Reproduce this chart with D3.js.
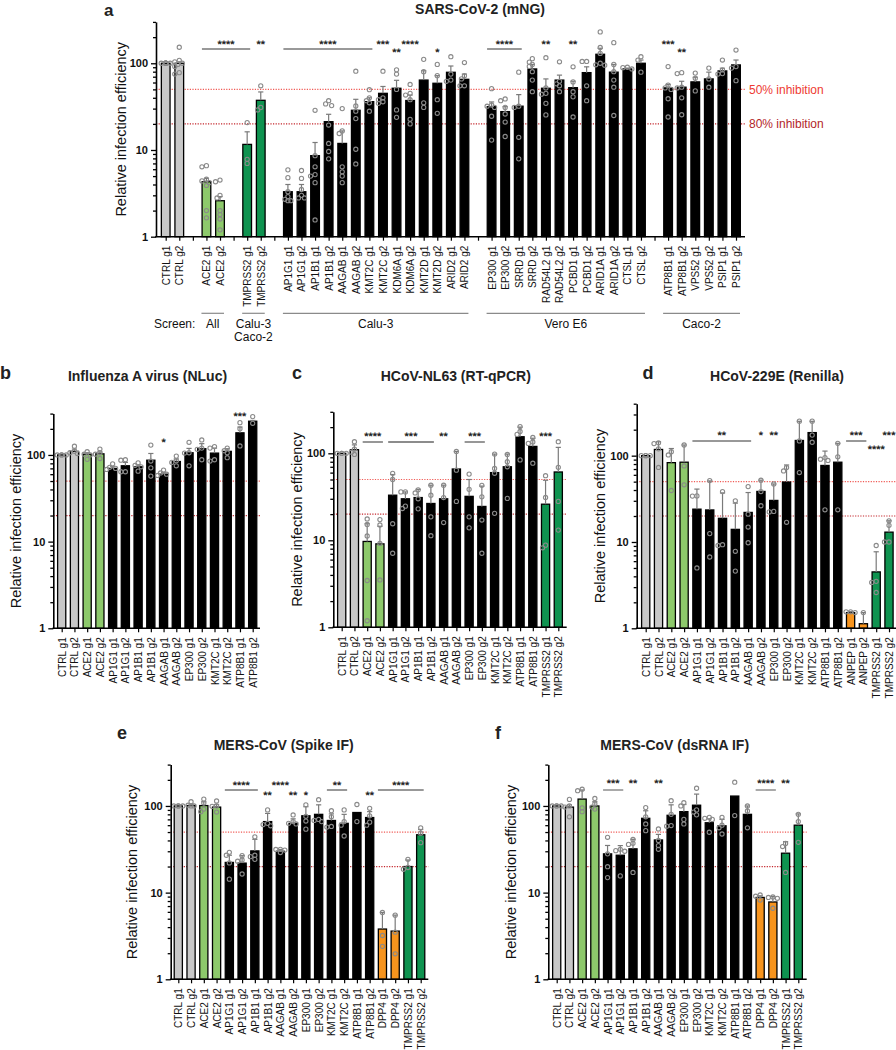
<!DOCTYPE html>
<html><head><meta charset="utf-8">
<script src="https://cdn.jsdelivr.net/npm/d3@7"></script>
<style>
body{margin:0;background:#fff;}
svg{display:block;font-family:"Liberation Sans",Arial,Helvetica,sans-serif;}
</style></head><body>
<svg id="fig" width="896" height="1050"></svg>
<script>
// ================= DATA =================
// Panel a: SARS-CoV-2 (mNG)  ("gap" entries are empty slots)
const aCategories = ["CTRL g1","CTRL g2","gap1","ACE2 g1","ACE2 g2","gap2","TMPRSS2 g1","TMPRSS2 g2","gap3",
 "AP1G1 g1","AP1G1 g2","AP1B1 g1","AP1B1 g2","AAGAB g1","AAGAB g2","KMT2C g1","KMT2C g2","KDM6A g1","KDM6A g2","KMT2D g1","KMT2D g2","ARID2 g1","ARID2 g2","gap4",
 "EP300 g1","EP300 g2","SRRD g1","SRRD g2","RAD54L2 g1","RAD54L2 g2","PCBD1 g1","PCBD1 g2","ARID1A g1","ARID1A g2","CTSL g1","CTSL g2","gap5",
 "ATP8B1 g1","ATP8B1 g2","VPS52 g1","VPS52 g2","PSIP1 g1","PSIP1 g2"];
const aValues = [100,100,null,4.3,2.6,null,11.6,37.4,null,
 3.3,3.3,8.6,21.2,11.9,28.7,36.1,45,51.5,37.2,64,58.8,78.7,65.3,null,
 31.6,27.7,32,86,51.5,64,52.3,78,127,79,86,100,null,
 52,53,61,66,81.6,95.7];
const aErrorTop = [100,104,null,4.7,2.9,null,16.2,46.7,null,
 4.0,4.0,12.2,25.8,16.6,38.4,40,54,63.6,43,82,72,93,75,null,
 35.8,31.6,43.5,97,66,73,62,91,149,97,88,109,null,
 57,62,69,79,87.6,109];
const aPoints = [[100,100,100,100,100,100,100,100],[153,108,104,100,97,92,78,75],[],
 [6.6,6.4,4.6,4.4,4.2,3.9,2.0,1.65],[4.5,4.3,3.0,2.8,2.0,1.8,1.6,1.2],[],
 [20.7,7.8,7.0],[55,31,29],[],
 [5.9,4.8,3.3,2.9,2.7,2.6,2.6],[5.8,4.7,3.5,3.0,2.8,2.8],[28.7,8.6,6.4,5.2,5.0,4.2,1.56],[37,34,32.5,19.4,11.9,9.6,7.9],
 [30,16.6,15.5,6.4,5.6,5.0,4.2],[81,32.2,28,23,10.2,6.9],[49.6,40,37,35,28],[81,40,38,36,34.5],
 [84,75,50,29,23.8],[57,45,43,38,22.6,20],[111,80,35,31],[97,72,38,26.5],[119,75,64,62],[102,72,66,55,55],[],
 [51,33,32,31,24.5,13],[38.8,37,31,26,21,14.3],[79,32,31,14,7.9],[113,103,97,92,80,64,47],
 [116,52,45,44,34.5,25.4],[104,62,58,55,47],[91,61,47,41,24],[105,105,55,37],
 [230,152,130,100,96,95],[173,97,80,64,53,25],[90,86,89],[119,109,79],[],
 [91.5,56,52,50,39,24],[78,76,53,52,40,25.5],[77,67,48],[88,66,53],[109,84,76,75],[142,91.5,88,63]];
const aStars = [
 {from:"ACE2 g1",to:"TMPRSS2 g1",label:"****",row:0},
 {from:"TMPRSS2 g2",label:"**",row:0},
 {from:"AP1G1 g1",to:"KMT2C g1",label:"****",row:0},
 {from:"KMT2C g2",label:"***",row:0},
 {from:"KDM6A g1",label:"**",row:1},
 {from:"KDM6A g2",label:"****",row:0},
 {from:"KMT2D g2",label:"*",row:1},
 {from:"EP300 g1",to:"SRRD g1",label:"****",row:0},
 {from:"RAD54L2 g1",label:"**",row:0},
 {from:"PCBD1 g1",label:"**",row:0},
 {from:"ATP8B1 g1",label:"***",row:0},
 {from:"ATP8B1 g2",label:"**",row:1}];
const aScreens = [
 {label:["All"],from:"ACE2 g1",to:"ACE2 g2"},
 {label:["Calu-3","Caco-2"],from:"TMPRSS2 g1",to:"TMPRSS2 g2"},
 {label:["Calu-3"],from:"AP1G1 g1",to:"ARID2 g2"},
 {label:["Vero E6"],from:"EP300 g1",to:"CTSL g2"},
 {label:["Caco-2"],from:"ATP8B1 g1",to:"PSIP1 g2"}];
const inhibitionLevels = [50,20];
const inhibitionLabels = ["50% inhibition","80% inhibition"];

// Panel b: Influenza A virus (NLuc)
const bCategories = ["CTRL g1","CTRL g2","ACE2 g1","ACE2 g2","AP1G1 g1","AP1G1 g2","AP1B1 g1","AP1B1 g2","AAGAB g1","AAGAB g2","EP300 g1","EP300 g2","KMT2C g1","KMT2C g2","ATP8B1 g1","ATP8B1 g2"];
const bValues = [100,110,102,103,70,75,73,87,60,84,106,118,105,110,180,245];
const bErrorTop = [100,117,106,108,74,82,77,104,63,90,119,135,120,118,210,250];
const bPoints = [[100,100,100,100],[126,110,106,104],[109,102,100,89],[117,106,102,91],[79,72,70,68],[88,87,64,64],[81,76,73,65],[130,85,71,57],[67,62,60,58],[97,86,82,75],[140,106,105,75],[149,120,116,88],[125,120,88,85],[120,112,106,93],[236,200,127],[277,232]];
const bStars = [{from:"AAGAB g1",label:"*",row:1},{from:"ATP8B1 g1",label:"***",row:0}];

// Panel c: HCoV-NL63 (RT-qPCR)
const cCategories = ["CTRL g1","CTRL g2","ACE2 g1","ACE2 g2","AP1G1 g1","AP1G1 g2","AP1B1 g1","AP1B1 g2","AAGAB g1","AAGAB g2","EP300 g1","EP300 g2","KMT2C g1","KMT2C g2","ATP8B1 g1","ATP8B1 g2","TMPRSS2 g1","TMPRSS2 g2"];
const cValues = [100,110,9.7,9.1,33,30,31,26.5,30,66,32,24.5,60,70,155,120,26,61];
const cErrorTop = [100,125,15.5,14.5,57,36,38.5,43,43,105,50,42,98,98,200,149,49,117];
const cPoints = [[100,100,100,100],[136,112,103,97],[17.6,15.2,11.2,3.45,1.19],[17.3,15,9.2,3.5],[58.8,50,15.5,7.1],[36,36,24.7,23.2],[38,35,30,23],[43,33,18.6,11.3],[43,31,16],[105,64,28],[57.7,38.5,18.6,13.9],[42.8,31.6,17.1,7.1],[98,67,59,20.4],[97,80,70,30.3],[203,178,165,84],[152,135,130,77],[55.3,31.1,8.8,8.2],[136,69,28,13.1]];
const cStars = [{from:"ACE2 g1",to:"ACE2 g2",label:"****",row:0},{from:"AP1G1 g1",to:"AP1B1 g2",label:"***",row:0},{from:"AAGAB g1",label:"**",row:0},{from:"EP300 g1",to:"EP300 g2",label:"***",row:0},{from:"TMPRSS2 g1",label:"***",row:0}];

// Panel d: HCoV-229E (Renilla)
const dCategories = ["CTRL g1","CTRL g2","ACE2 g1","ACE2 g2","AP1G1 g1","AP1G1 g2","AP1B1 g1","AP1B1 g2","AAGAB g1","AAGAB g2","EP300 g1","EP300 g2","KMT2C g1","KMT2C g2","ATP8B1 g1","ATP8B1 g2","ANPEP g1","ANPEP g2","TMPRSS2 g1","TMPRSS2 g2"];
const dValues = [100,118,83,84,24,23.5,18.8,14,22,38.5,30.3,49.5,150,185,77,84,1.52,1.13,4.5,13];
const dErrorTop = [100,145,121,133,41,51,37,28.2,37.4,52,47,78,250,250,113,139,1.56,1.52,7.7,17.6];
const dPoints = [[100,100,100,100],[141,138,120,73],[111,102,39.5],[133,76,46],[34.2,34,5],[51.5,12.5,6.7],[38.4,9.3,9.1],[30,7.8,4.6],[43.8,21,14.9,9.8],[52,38.4,26.3],[47,22.6,22.3],[73,66.5,16.9],[251,148,63.7],[251,173,143],[95,91,88,23.6],[139,97,23.6],[1.55,1.55,1.52],[1.52],[9.1,3.5,3.4,2.6],[17.6,15.6,10,10]];
const dStars = [{from:"AP1G1 g1",to:"AAGAB g1",label:"**",row:0},{from:"AAGAB g2",label:"*",row:0},{from:"EP300 g1",label:"**",row:0},{from:"ANPEP g1",to:"ANPEP g2",label:"***",row:0},{from:"TMPRSS2 g1",label:"****",row:1},{from:"TMPRSS2 g2",label:"***",row:0}];

// Panel e: MERS-CoV (Spike IF)
const eCategories = ["CTRL g1","CTRL g2","ACE2 g1","ACE2 g2","AP1G1 g1","AP1G1 g2","AP1B1 g1","AP1B1 g2","AAGAB g1","AAGAB g2","EP300 g1","EP300 g2","KMT2C g1","KMT2C g2","ATP8B1 g1","ATP8B1 g2","DPP4 g1","DPP4 g2","TMPRSS2 g1","TMPRSS2 g2"];
const eValues = [100,101,101,97,22.3,21.9,30.3,66,30,63,77,80,68,63,84,73.5,3.8,3.6,20,46.5];
const eErrorTop = [100,105,112,104,27,26.7,41.2,82,31.5,71,98,103,81,80,84,86,5.9,5.5,23.8,53.5];
const ePoints = [[100,100,100,100],[112,102,100,100],[120,108,92,86],[114,100,99,85],[29.2,27,22,14.3],[26.7,23.8,23,16.4],[44,27,26,24.2],[90,63,61,59],[31.6,31.5,31,29],[78.7,66,63,62],[103,76,67,54],[118,70,68,66],[88,75,58,57],[90,66,60,45],[104,66],[94,77,65,60],[5.9,3.2,2.4],[5.5,3.5,1.97],[24.2,19.5,18.6],[56,48.5,37.7]];
const eStars = [{from:"AP1G1 g1",to:"AP1B1 g1",label:"****",row:0},{from:"AP1B1 g2",label:"**",row:1},{from:"AAGAB g1",label:"****",row:0},{from:"AAGAB g2",label:"**",row:1},{from:"EP300 g1",label:"*",row:1},{from:"KMT2C g1",to:"KMT2C g2",label:"**",row:0},{from:"ATP8B1 g2",label:"**",row:1},{from:"DPP4 g1",to:"TMPRSS2 g2",label:"****",row:0}];

// Panel f: MERS-CoV (dsRNA IF)
const fCategories = eCategories.slice();
const fValues = [100,97,120,100,28,27,32,72,40.5,78,86,102,64,59,130,80,8.8,7.8,28.5,60];
const fErrorTop = [100,103,153,112,35,34.9,41.2,88,47,103,104,137,71,70,130,100,9.2,9,38.7,81];
const fPoints = [[100,100,100,100],[119,100,97,75],[156,150,95,86],[122,106,97,92],[43.5,28,19.9,14.9],[31.6,30.5,30,15.6],[41,37.1,36,17.1],[95.7,75,62,51.9],[54.3,40,34.9,31.6],[115,80,59.3,58.5],[109,100,70,62],[160,90,85,79],[74,72,70,49.7],[74,60,56,47.5],[188,77.4],[100,87.6,56],[9.4,9.1,8.2],[8.8,8.9,8.6,6.6],[37,34,17.1],[80,66,38.1]];
const fStars = [{from:"AP1G1 g1",to:"AP1G1 g2",label:"***",row:0},{from:"AP1B1 g1",label:"**",row:0},{from:"AAGAB g1",label:"**",row:0},{from:"DPP4 g1",to:"DPP4 g2",label:"****",row:0},{from:"TMPRSS2 g1",label:"**",row:0}];

// ================= DRAWING =================
const fig = d3.select("#fig");
function colorFor(name){
  if(name.startsWith("CTRL")) return "#c8c8c8";
  if(name.startsWith("ACE2")) return "#8dc96b";
  if(name.startsWith("TMPRSS2")) return "#0f9350";
  if(name.startsWith("DPP4")||name.startsWith("ANPEP")) return "#f7941d";
  return "#000";
}
const minorTicks = [2,3,4,5,6,7,8,9,20,30,40,50,60,70,80,90,200,300,400];

function drawPanel(L, cats, vals, hi, pts, stars){
  const g = fig.append("g");
  const y = d3.scaleLog().domain([1, L.yMax]).range([L.yBottom, L.yTop]);
  const x = d3.scalePoint().domain(cats).range([L.first, L.last]);
  const bw = x.step()*0.64;

  // inhibition reference lines
  inhibitionLevels.forEach((lv,i)=>{
    g.append("line").attr("x1",L.left).attr("x2",L.lineEnd||L.right)
      .attr("y1",y(lv)).attr("y2",y(lv))
      .attr("stroke", i===0?"#f05a55":"#c3262c").attr("stroke-width",1.2)
      .attr("stroke-dasharray","1.2,1.4");
    if(L.inhibText){
      g.append("text").attr("x",L.lineEnd+4).attr("y",y(lv)).attr("dy","0.35em")
        .attr("font-size",12).attr("fill", i===0?"#ee3a33":"#b3262b").text(inhibitionLabels[i]);
    }
  });

  const rows = cats.map((c,i)=>({c, v:vals[i], h:hi[i], p:pts[i]})).filter(d=>d.v!=null);

  g.selectAll("rect.bar").data(rows).join("rect")
    .attr("x",d=>x(d.c)-bw/2).attr("width",bw)
    .attr("y",d=>y(d.v)).attr("height",d=>L.yBottom-y(d.v))
    .attr("fill",d=>colorFor(d.c)).attr("stroke","#000").attr("stroke-width",1.3);

  // error bars
  const eb = rows.filter(d=>d.h>d.v*1.005);
  g.selectAll("line.err").data(eb).join("line")
    .attr("x1",d=>x(d.c)).attr("x2",d=>x(d.c)).attr("y1",d=>y(d.v)).attr("y2",d=>y(d.h))
    .attr("stroke","#7a7a7a").attr("stroke-width",1.2);
  g.selectAll("line.cap").data(eb).join("line")
    .attr("x1",d=>x(d.c)-2.6).attr("x2",d=>x(d.c)+2.6).attr("y1",d=>y(d.h)).attr("y2",d=>y(d.h))
    .attr("stroke","#7a7a7a").attr("stroke-width",1.2);

  // points with deterministic spreading
  const offsets = [0,-3,3,-1.5,1.5,-4.5,4.5,-6,6];
  const placedAll = [];
  rows.forEach(d=>{
    const cx = x(d.c);
    const placed = [];
    d.p.map(v=>y(v)).sort((a,b)=>a-b).forEach(py=>{
      let best = offsets[0];
      for(const o of offsets){
        if(placed.every(q=>Math.hypot(q[0]-o,q[1]-py)>=3.6)){ best=o; break; }
      }
      placed.push([best,py]);
      placedAll.push([cx+best,py]);
    });
  });
  g.selectAll("circle.pt").data(placedAll).join("circle")
    .attr("cx",d=>d[0]).attr("cy",d=>d[1]).attr("r",2.1)
    .attr("fill","none").attr("stroke","#8a8a8a").attr("stroke-width",1.1);

  // y axis
  const yAx = g.append("g").attr("transform",`translate(${L.left},0)`)
    .call(d3.axisLeft(y).tickValues([1,10,100]).tickFormat(d3.format("d")).tickSize(5).tickSizeOuter(0));
  yAx.selectAll("text").attr("font-size",11).attr("font-weight","bold").attr("fill","#111")
     .attr("font-family","Liberation Sans, Arial, sans-serif");
  const yMin = g.append("g").attr("transform",`translate(${L.left},0)`)
    .call(d3.axisLeft(y).tickValues(minorTicks.filter(t=>t<=L.yMax)).tickFormat("").tickSize(3).tickSizeOuter(0));
  yMin.select(".domain").remove();
  [yAx,yMin].forEach(a=>a.selectAll("line").attr("stroke-width",1.3));
  yAx.select(".domain").attr("stroke-width",1.6);

  // x axis
  const xAx = g.append("g").attr("transform",`translate(0,${L.yBottom})`)
    .call(d3.axisBottom(x).tickSize(4).tickSizeOuter(0).tickFormat(c=>c.startsWith("gap")?"":c));
  xAx.select(".domain").remove();
  xAx.selectAll("line").attr("stroke-width",1.2);
  xAx.selectAll("text").attr("transform","rotate(-90)").attr("x",-9).attr("y",0).attr("dy","0.35em")
    .style("text-anchor","end").attr("font-size",10).attr("fill","#111")
    .attr("font-family","Liberation Sans, Arial, sans-serif");
  g.append("line").attr("x1",L.left-0.8).attr("x2",L.right).attr("y1",L.yBottom).attr("y2",L.yBottom)
    .attr("stroke","#000").attr("stroke-width",1.6);

  // labels
  g.append("text").attr("transform",`translate(${L.left-L.ylabOff},${(L.yBottom+L.yTop)/2}) rotate(-90)`)
    .attr("text-anchor","middle").attr("dy","0.35em").attr("font-size",14.5).attr("fill","#111")
    .text("Relative infection efficiency");
  g.append("text").attr("x",L.titleX).attr("y",L.titleY).attr("text-anchor","middle")
    .attr("font-size",14).attr("font-weight","bold").attr("fill","#222").text(L.title);
  g.append("text").attr("x",L.letterX).attr("y",L.letterY)
    .attr("font-size",L.letterSize||18).attr("font-weight","bold").attr("fill","#222").text(L.letter);

  // significance
  stars.forEach(s=>{
    let cx;
    if(s.to){
      const x1 = x(s.from)-4.5, x2 = x(s.to)+3;
      g.append("line").attr("x1",x1).attr("x2",x2).attr("y1",L.bracketY).attr("y2",L.bracketY)
        .attr("stroke",L.bracketColor).attr("stroke-width",L.bracketW);
      cx = (x1+x2)/2;
    } else cx = x(s.from);
    g.append("text").attr("x",cx).attr("y",L.starRows[s.row]+6.2).attr("text-anchor","middle")
      .attr("font-size",11).attr("font-weight","bold").attr("fill","#222")
      .attr("text-rendering","geometricPrecision").text(s.label);
  });
  return {x,y,g};
}

// ---- panel a ----
const A = drawPanel({left:156,right:745,lineEnd:745,inhibText:true,yBottom:236.7,yTop:21.9,yMax:300,first:165.7,last:736,
  ylabOff:35,title:"SARS-CoV-2 (mNG)",titleX:480,titleY:14,letter:"a",letterX:104,letterY:16,letterSize:17,
  starRows:[42,49.5],bracketY:49,bracketColor:"#777",bracketW:1.3},
  aCategories,aValues,aErrorTop,aPoints,aStars);
// screen labels
A.g.append("text").attr("x",154).attr("y",328).attr("font-size",12).attr("fill","#111").text("Screen:");
aScreens.forEach(s=>{
  const x1 = A.x(s.from)-5, x2 = A.x(s.to)+4;
  A.g.append("line").attr("x1",x1).attr("x2",x2).attr("y1",313.3).attr("y2",313.3)
    .attr("stroke","#8a8a8a").attr("stroke-width",1.2);
  s.label.forEach((t,i)=>{
    A.g.append("text").attr("x",(x1+x2)/2).attr("y",328+i*13).attr("text-anchor","middle")
      .attr("font-size",12).attr("fill","#111").text(t);
  });
});

// ---- panel b ----
drawPanel({left:53.3,right:260,yBottom:628.3,yTop:413.6,yMax:300,first:61.7,last:252.7,
  ylabOff:37.5,title:"Influenza A virus (NLuc)",titleX:147.5,titleY:381,letter:"b",letterX:0,letterY:379,
  starRows:[413.3,439.3],bracketY:440,bracketColor:"#555",bracketW:1},
  bCategories,bValues,bErrorTop,bPoints,bStars);

// ---- panel c ----
drawPanel({left:333.3,right:566.7,yBottom:627.3,yTop:411.8,yMax:300,first:341.7,last:558.3,
  ylabOff:36.5,title:"HCoV-NL63 (RT-qPCR)",titleX:455.8,titleY:381,letter:"c",letterX:292,letterY:378.5,
  starRows:[433.3,446],bracketY:442,bracketColor:"#8c8c8c",bracketW:1.8},
  cCategories,cValues,cErrorTop,cPoints,cStars);

// ---- panel d ----
drawPanel({left:636.7,right:905,yBottom:628.3,yTop:403.7,yMax:400,first:645.7,last:889,
  ylabOff:36.7,title:"HCoV-229E (Renilla)",titleX:777,titleY:381,letter:"d",letterX:642.5,letterY:378.5,
  starRows:[432.3,446.7],bracketY:441,bracketColor:"#333",bracketW:1},
  dCategories,dValues,dErrorTop,dPoints,dStars);

// ---- panel e ----
drawPanel({left:170.7,right:428.3,yBottom:979.3,yTop:764.6,yMax:300,first:178.3,last:420.7,
  ylabOff:39,title:"MERS-CoV (Spike IF)",titleX:283.7,titleY:750,letter:"e",letterX:117,letterY:739.3,
  starRows:[782.7,792.7],bracketY:790,bracketColor:"#333",bracketW:1},
  eCategories,eValues,eErrorTop,ePoints,eStars);

// ---- panel f ----
drawPanel({left:548.3,right:806.7,yBottom:979.3,yTop:764.6,yMax:300,first:556.7,last:798.3,
  ylabOff:37.3,title:"MERS-CoV (dsRNA IF)",titleX:674.7,titleY:750,letter:"f",letterX:495,letterY:739.3,
  starRows:[781,792],bracketY:790,bracketColor:"#555",bracketW:1},
  fCategories,fValues,fErrorTop,fPoints,fStars);
</script>
</body></html>
